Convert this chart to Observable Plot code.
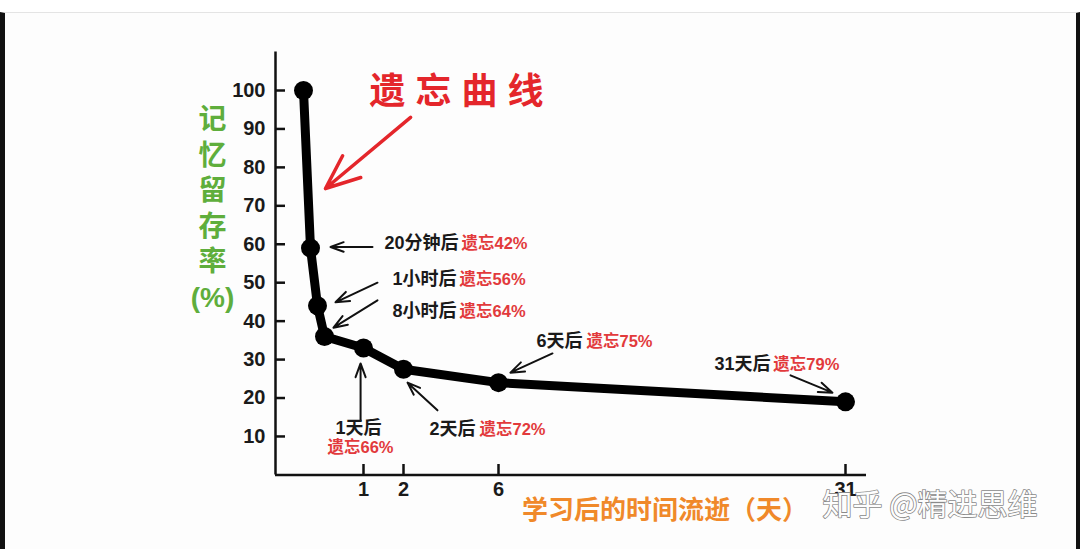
<!DOCTYPE html>
<html><head><meta charset="utf-8">
<script src="https://cdn.jsdelivr.net/npm/d3@7"></script>
<script src="https://cdn.jsdelivr.net/npm/@observablehq/plot@0.6"></script>
<style>
html,body{margin:0;padding:0;background:#fff;width:1080px;height:549px;overflow:hidden;}
#wrap{position:relative;width:1080px;height:549px;}
#photo{position:absolute;left:0;top:12px;width:1071px;height:536px;background:#fdfdfd;border-top:1px solid #e4e4e4;border-left:5px solid #111;border-right:4px solid #111;}
#chart{position:absolute;left:0;top:0;}
</style></head><body>
<div id="wrap"><div id="photo"></div><div id="chart"></div></div>
<script>
// ---- data ----
const times = [0, 20/1440, 1/24, 8/24, 1, 2, 6, 31];          // days after learning
const retention = [100, 59, 44, 36, 33, 27.5, 24, 19];          // % retained
const timeLabels = [null, "20分钟后", "1小时后", "8小时后", "1天后", "2天后", "6天后", "31天后"];
const forgetLabels = [null, "遗忘42%", "遗忘56%", "遗忘64%", "遗忘66%", "遗忘72%", "遗忘75%", "遗忘79%"];
const xTicks = [1, 2, 6, 31];
const yTicks = [10, 20, 30, 40, 50, 60, 70, 80, 90, 100];
const titleText = "遗忘曲线";
const yTitleLines = ["记", "忆", "留", "存", "率", "(%)"];
const xTitle = "学习后的时间流逝（天）";
const watermark = "知乎 @精进思维";

// ---- annotation layout (data units: days, %) ----
const notes = [
  {i:1, tx:4.32, ty:60.2, rx:4.44, ry:60.2, stack:false, a:[1.225,59.3,0.436,59.3]},
  {i:2, tx:4.23, ty:50.8, rx:4.36, ry:50.8, stack:false, a:[1.35,50.0,0.521,44.9]},
  {i:3, tx:4.23, ty:42.5, rx:4.36, ry:42.5, stack:false, a:[1.35,45.4,0.487,38.3]},
  {i:4, tx:0.915, ty:12.1, rx:0.949, ry:7.1, stack:true, a:[0.95,14.2,0.95,29.0]},
  {i:5, tx:5.03, ty:11.8, rx:5.2, ry:11.8, stack:false, a:[3.43,16.8,2.17,24.0]},
  {i:6, tx:12.05, ty:34.7, rx:12.34, ry:34.7, stack:false, a:[9.89,31.6,6.86,26.6]},
  {i:7, tx:25.6, ty:28.7, rx:25.8, ry:28.7, stack:false, a:[27.04,25.9,30.06,21.4]}
];
const titleLayout = {x:4.23, y:99.5, arrow:[2.3,93.0,0.35,74.5]};
const yTitleLayout = {x:-0.325, y:69.8};
const xTitleLayout = {x:18.0, y:-9.3};
const watermarkLayout = {x:29.34, y:-8.0};

const data = times.map((t, k) => ({t, r: retention[k]}));
const FONT = "'Liberation Sans', 'Noto Sans CJK SC', sans-serif";
const RED = "#e23a3c";

const svg = Plot.plot({
  width: 1080, height: 549,
  marginLeft: 275, marginRight: 214, marginTop: 40, marginBottom: 75,
  style: {background: "transparent", fontFamily: FONT, color: "#111"},
  x: {type: "linear",
      domain: [-0.1, 0, 1/72, 1/24, 1/3, 1, 2, 6, 31, 32.5],
      range: [275, 303, 310, 317, 324, 363, 403, 498, 845, 866]},
  y: {domain: [0, 100], range: [474.4, 90]},
  marks: [
    // axis lines
    Plot.ruleX([-0.1], {y1: 0, y2: 110, stroke: "#111", strokeWidth: 2.5}),
    Plot.ruleY([0], {x1: -0.1, x2: 32.5, stroke: "#111", strokeWidth: 2.5}),
    // ticks (inward)
    Plot.axisY({ticks: yTicks, tickSize: -10, fill: "none", label: null, stroke: "#111", strokeWidth: 2.5}),
    Plot.axisX({ticks: xTicks, tickSize: -10, fill: "none", label: null, stroke: "#111", strokeWidth: 2.5}),
    // tick labels
    Plot.axisY({ticks: yTicks, tickSize: 0, tickPadding: 10, label: null, fontSize: 20, fontWeight: "bold", fill: "#1a1a1a"}),
    Plot.axisX({ticks: xTicks, tickSize: 0, tickPadding: 7, label: null, fontSize: 20, fontWeight: "bold", fill: "#1a1a1a"}),
    // curve
    Plot.line(data, {x: "t", y: "r", stroke: "#000", strokeWidth: 9, strokeLinejoin: "round", strokeLinecap: "round"}),
    Plot.dot(data, {x: "t", y: "r", r: 9.5, fill: "#000"}),
    // annotation arrows
    Plot.arrow(notes, {x1: d => d.a[0], y1: d => d.a[1], x2: d => d.a[2], y2: d => d.a[3],
      stroke: "#111", strokeWidth: 2, headLength: 11, headAngle: 40}),
    // annotation texts
    Plot.text(notes.filter(d => !d.stack), {x: "tx", y: "ty", text: d => timeLabels[d.i], textAnchor: "end",
      fontSize: 18, fontWeight: "bold", fill: "#1a1a1a"}),
    Plot.text(notes.filter(d => !d.stack), {x: "rx", y: "ry", text: d => forgetLabels[d.i], textAnchor: "start",
      fontSize: 16.5, fontWeight: "bold", fill: RED}),
    Plot.text(notes.filter(d => d.stack), {x: "tx", y: "ty", text: d => timeLabels[d.i], textAnchor: "middle",
      fontSize: 18, fontWeight: "bold", fill: "#1a1a1a"}),
    Plot.text(notes.filter(d => d.stack), {x: "rx", y: "ry", text: d => forgetLabels[d.i], textAnchor: "middle",
      fontSize: 16.5, fontWeight: "bold", fill: RED}),
    // title + arrow
    Plot.text([titleText], {x: titleLayout.x, y: titleLayout.y, text: d => d, fontSize: 36, fontWeight: "bold",
      fill: "#e4262b", dx: 5}),
    Plot.arrow([titleLayout], {x1: d => d.arrow[0], y1: d => d.arrow[1], x2: d => d.arrow[2], y2: d => d.arrow[3],
      stroke: "#e4262b", strokeWidth: 3.5, headLength: 30, headAngle: 45}),
    // y title (vertical)
    Plot.text([yTitleLines.join("\n")], {x: yTitleLayout.x, y: yTitleLayout.y, text: d => d, lineAnchor: "middle",
      lineHeight: 1.27, fontSize: 28, fontWeight: "bold", fill: "#5fae3c"}),
    // x title
    Plot.text([xTitle], {x: xTitleLayout.x, y: xTitleLayout.y, text: d => d, fontSize: 26, fontWeight: "bold", fill: "#f0892a"}),
    // watermark
    Plot.text([watermark], {x: watermarkLayout.x, y: watermarkLayout.y, text: d => d, textAnchor: "start",
      fontSize: 30, fill: "#fdfdfd", stroke: "#8a8a8a", strokeWidth: 1.6, fontFamily: "'Noto Sans CJK SC', sans-serif"})
  ]
});
d3.select(svg).selectAll("text").filter(function() { return this.textContent === titleText; })
  .style("letter-spacing", "10px");
document.getElementById("chart").appendChild(svg);
</script>
</body></html>
